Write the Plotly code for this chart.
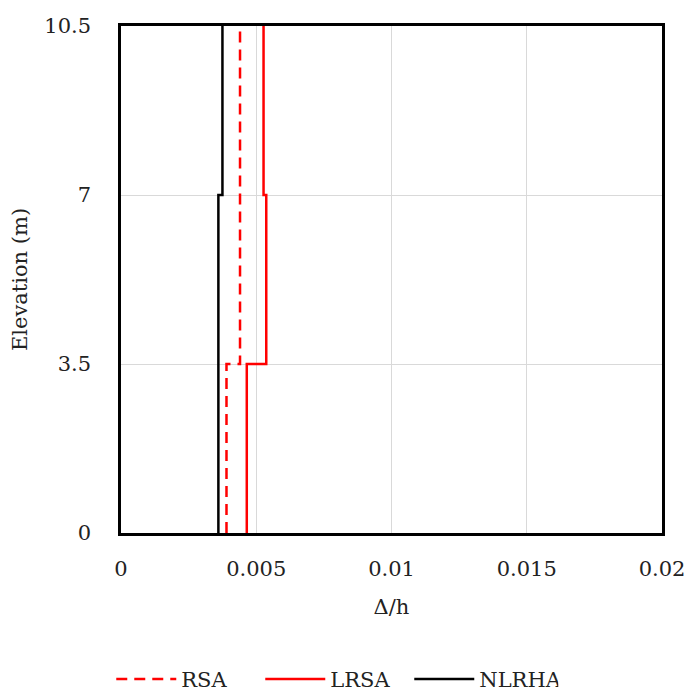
import plotly.graph_objects as go

# Story boundaries (m)
levels = [0, 3.5, 7, 10.5]
# Story drift ratios per story (story 1..3)
rsa = [0.0039, 0.0044, 0.0044]
lrsa = [0.00465, 0.00537, 0.00527]
nlrha = [0.0036, 0.0036, 0.00375]

x_ticks = [0, 0.005, 0.01, 0.015, 0.02]
x_tick_labels = ["0", "0.005", "0.01", "0.015", "0.02"]
y_ticks = [0, 3.5, 7, 10.5]
y_tick_labels = ["0", "3.5", "7", "10.5"]


def step(vals):
    xs, ys = [], []
    for i, v in enumerate(vals):
        xs += [v, v]
        ys += [levels[i], levels[i + 1]]
    return xs, ys


FONT = "DejaVu Serif"
fig = go.Figure()
for name, vals, color, dash in [
    ("RSA", rsa, "#ff0000", "11px,7px"),
    ("LRSA", lrsa, "#ff0000", "solid"),
    ("NLRHA", nlrha, "#000000", "solid"),
]:
    xs, ys = step(vals)
    fig.add_trace(go.Scatter(x=xs, y=ys, mode="lines", name=name,
                             line=dict(color=color, width=2.5, dash=dash)))

fig.update_layout(
    width=689, height=690,
    margin=dict(l=121, r=27, t=26, b=157, autoexpand=False),
    paper_bgcolor="white", plot_bgcolor="white",
    font=dict(family=FONT, size=21, color="#222222"),
    showlegend=True,
    legend=dict(orientation="h", x=-0.018, xanchor="left", y=-0.248, yanchor="top",
                font=dict(family=FONT, size=21, color="#222222"),
                itemwidth=60, entrywidth=74, entrywidthmode="pixels",
                tracegroupgap=0),
)
fig.update_xaxes(range=[0, 0.02], tickvals=x_ticks, ticktext=x_tick_labels,
                 showgrid=True, gridcolor="#d9d9d9", gridwidth=1,
                 showline=True, linecolor="black", linewidth=2.5, mirror=True,
                 zeroline=False, ticks="", ticklen=0, automargin=False,
                 ticklabelstandoff=15, ticklabeloverflow="allow",
                 title=dict(text="Δ/h", font=dict(family=FONT, size=21), standoff=20))
fig.update_yaxes(range=[0, 10.5], tickvals=y_ticks, ticktext=y_tick_labels,
                 showgrid=True, gridcolor="#d9d9d9", gridwidth=1,
                 showline=True, linecolor="black", linewidth=2.5, mirror=True,
                 zeroline=False, ticks="", ticklen=0, automargin=False,
                 ticklabelstandoff=23, ticklabeloverflow="allow",
                 title=dict(text="Elevation (m)", font=dict(family=FONT, size=21), standoff=11))

fig.write_html(
    "out.html",
    config={"displayModeBar": False},
    post_script="document.body.style.margin='0';document.body.style.overflow='hidden';",
)
